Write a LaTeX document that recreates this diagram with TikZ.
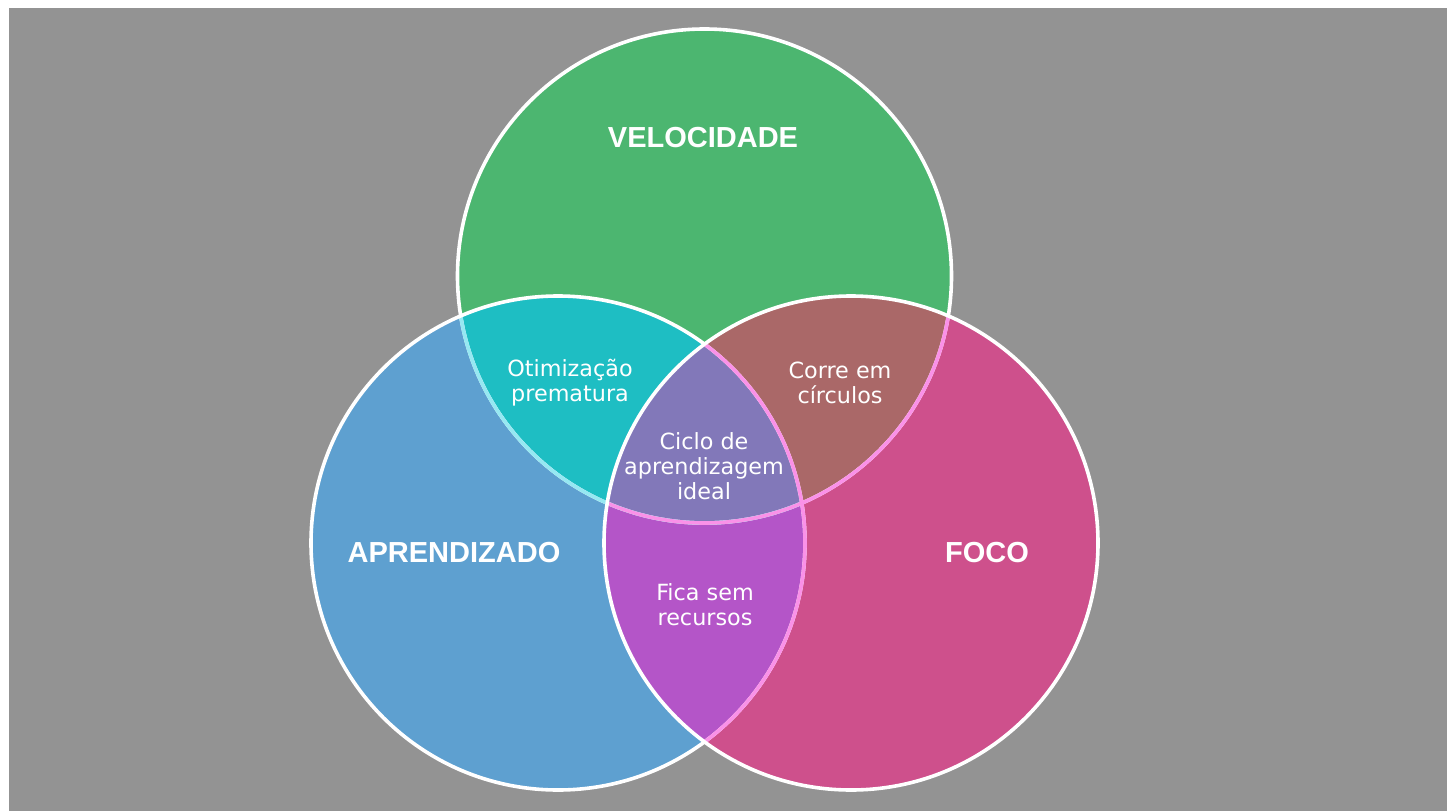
\documentclass[tikz,border=0pt]{standalone}
\usepackage{fontspec}
\setmainfont{DejaVu Sans}
\newfontfamily\boldlab{Liberation Sans}[BoldFont={* Bold}]
\definecolor{bggray}{RGB}{147,147,147}
\definecolor{gcol}{RGB}{76,182,112}
\definecolor{bcol}{RGB}{94,160,208}
\definecolor{pcol}{RGB}{206,80,140}
\definecolor{gbcol}{RGB}{30,190,195}
\definecolor{gpcol}{RGB}{170,104,104}
\definecolor{bpcol}{RGB}{180,85,200}
\definecolor{allcol}{RGB}{130,120,185}
\definecolor{cyantint}{RGB}{150,232,242}
\definecolor{pinktint}{RGB}{250,145,232}
\tikzset{
  outl/.style={line width=3.6pt},
  biglab/.style={text=white, font=\boldlab\bfseries\fontsize{29}{31}\selectfont, inner sep=0pt},
  smalllab/.style={text=white, align=center, font=\fontsize{22.3}{25}\selectfont, inner sep=0pt},
}
\begin{document}
\begin{tikzpicture}[x=1pt,y=-1pt]
\useasboundingbox (0,0) rectangle (1454,811);
\fill[white] (0,0) rectangle (1454,811);
\fill[bggray] (9,8) rectangle (1447,811);
\coordinate (G) at (704.5,276);
\coordinate (B) at (558,543);
\coordinate (P) at (851,543);
\def\R{247pt}
% fills
\fill[gcol] (G) circle[radius=\R];
\fill[bcol] (B) circle[radius=\R];
\fill[pcol] (P) circle[radius=\R];
\begin{scope}
  \clip (G) circle[radius=\R];
  \fill[gbcol] (B) circle[radius=\R];
  \fill[gpcol] (P) circle[radius=\R];
\end{scope}
\begin{scope}
  \clip (B) circle[radius=\R];
  \fill[bpcol] (P) circle[radius=\R];
  \clip (G) circle[radius=\R];
  \fill[allcol] (P) circle[radius=\R];
\end{scope}
% outlines
\draw[white, outl] (G) circle[radius=\R];
\begin{scope}
  \clip (B) circle[radius=\R];
  \draw[cyantint, outl] (G) circle[radius=\R];
\end{scope}
\draw[white, outl] (B) circle[radius=\R];
\begin{scope}
  \clip (P) circle[radius=\R];
  \draw[pinktint, outl] (G) circle[radius=\R];
  \draw[pinktint, outl] (B) circle[radius=\R];
\end{scope}
\draw[white, outl] (P) circle[radius=\R];
% labels
\node[biglab] (vel) at (703,138) {VELOCIDADE};
\node[biglab] (apr) at (454,553) {APRENDIZADO};
\node[biglab] (foco) at (987,553) {FOCO};
\node[smalllab] (otim) at (570,383) {Otimização\\prematura};
\node[smalllab] (corre) at (840,383) {Corre em\\círculos};
\node[smalllab] (ciclo) at (704,466) {Ciclo de\\aprendizagem\\ideal};
\node[smalllab] (fica) at (705,605) {Fica sem\\recursos};
\end{tikzpicture}
\end{document}
